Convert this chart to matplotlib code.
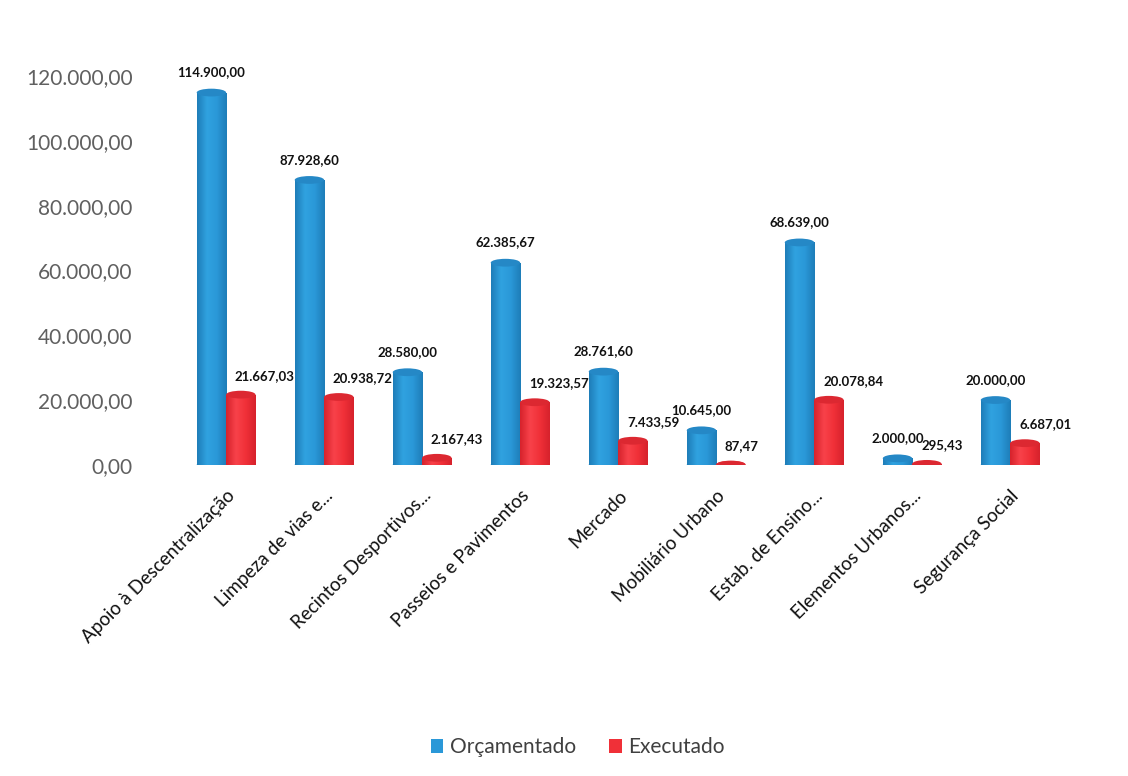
import numpy as np
import matplotlib
matplotlib.use("Agg")
import matplotlib.pyplot as plt
from matplotlib.patches import Ellipse, Rectangle, Patch
from matplotlib.colors import LinearSegmentedColormap

categories = ["Apoio à Descentralização", "Limpeza de vias e...", "Recintos Desportivos...",
              "Passeios e Pavimentos", "Mercado", "Mobiliário Urbano", "Estab. de Ensino...",
              "Elementos Urbanos...", "Segurança Social"]
orcamentado = [114900.00, 87928.60, 28580.00, 62385.67, 28761.60, 10645.00, 68639.00, 2000.00, 20000.00]
executado = [21667.03, 20938.72, 2167.43, 19323.57, 7433.59, 87.47, 20078.84, 295.43, 6687.01]
series_names = ["Orçamentado", "Executado"]
yticks = [0, 20000, 40000, 60000, 80000, 100000, 120000]


def fmt(v):
    s = f"{v:,.2f}"
    return s.replace(",", "X").replace(".", ",").replace("X", ".")


plt.rcParams['font.family'] = ['Lato', 'DejaVu Sans']
fig = plt.figure(figsize=(11.28, 7.76), dpi=100)
ax = fig.add_axes([0.157, 0.401, 0.782, 0.501])

width = 0.30
cap_h = 2400
x = np.arange(len(categories))

blue_cmap = LinearSegmentedColormap.from_list("b", ["#1E7DB8", "#30A2E0", "#2A98D8", "#1E7DB8"])
red_cmap = LinearSegmentedColormap.from_list("r", ["#D6222C", "#F8424A", "#F03038", "#D6222C"])
styles = [("#2A98D8", "#2588C6", blue_cmap), ("#F03038", "#DC2831", red_cmap)]

grad = np.linspace(0, 1, 64).reshape(1, -1)
for si, vals in enumerate([orcamentado, executado]):
    base_col, cap_col, cmap = styles[si]
    xs = x + (si - 0.5) * width
    for xi, v in zip(xs, vals):
        left = xi - width / 2
        ax.add_patch(Ellipse((xi, 0), width, cap_h, facecolor=cmap(0.3), edgecolor='none', zorder=2 + si))
        rect = Rectangle((left, 0), width, v, facecolor=base_col, edgecolor='none', zorder=2 + si)
        ax.add_patch(rect)
        im = ax.imshow(grad, cmap=cmap, aspect='auto', extent=(left, left + width, 0, max(v, 1)),
                       zorder=2 + si, interpolation='bicubic')
        im.set_clip_path(rect)
        ax.add_patch(Ellipse((xi, v), width, cap_h, facecolor=cap_col, edgecolor='none', zorder=2.5 + si))
        if si == 0:
            ax.text(xi, v + cap_h / 2 + 3200, fmt(v), ha='center', va='bottom',
                    fontsize=9.5, fontweight='bold', color='#111111', zorder=6)
        else:
            ax.text(left + 0.09, v + cap_h / 2 + 2800, fmt(v), ha='left', va='bottom',
                    fontsize=9.5, fontweight='bold', color='#111111', zorder=6)

ax.set_xlim(-0.5, len(categories) - 0.5)
ax.set_ylim(0, 120000)
ax.set_yticks(yticks)
ax.set_yticklabels([fmt(t) for t in yticks], fontsize=15, color='#606060')
ax.set_xticks(x)
ax.set_xticklabels(categories, rotation=45, ha='right', rotation_mode='anchor',
                   fontsize=13.5, color='#111111')
ax.tick_params(axis='both', length=0)
ax.tick_params(axis='y', pad=32)
ax.tick_params(axis='x', pad=16)
for s in ax.spines.values():
    s.set_visible(False)

handles = [Patch(facecolor=styles[0][0]), Patch(facecolor=styles[1][0])]
fig.legend(handles, series_names, loc='center', bbox_to_anchor=(0.512, 0.037), ncol=2,
           frameon=False, handlelength=0.6, handleheight=0.6,
           handletextpad=0.3, columnspacing=1.6, labelcolor='#404040',
           prop={'family': ['Lato', 'DejaVu Sans'], 'size': 15})

fig.savefig("out.png", dpi=100)
